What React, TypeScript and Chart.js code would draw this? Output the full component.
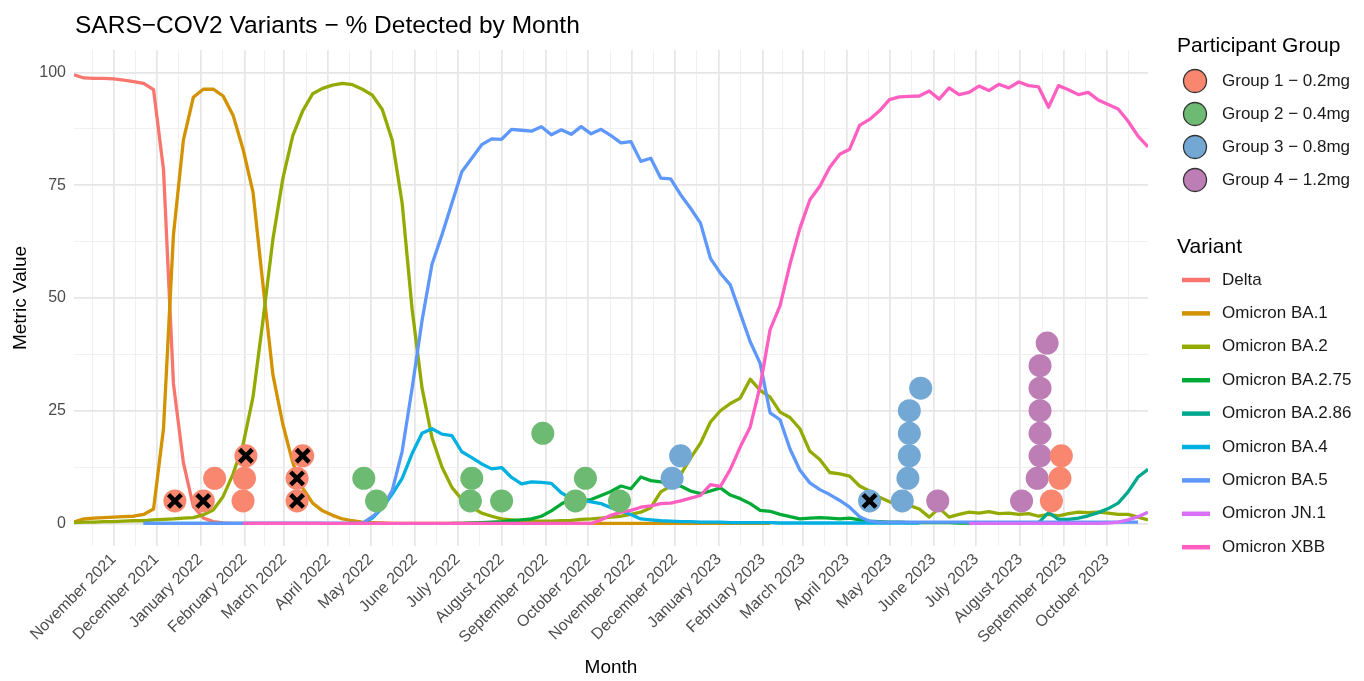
import { useEffect, useRef } from "react";
import { Chart, registerables } from "chart.js";

Chart.register(...registerables);

const FONT = "'Liberation Sans', Arial, Helvetica, sans-serif";

const TITLE = "SARS\u2212COV2 Variants \u2212 % Detected by Month";
const X_TITLE = "Month";
const Y_TITLE = "Metric Value";
const GROUP_LEGEND_TITLE = "Participant Group";
const VARIANT_LEGEND_TITLE = "Variant";

// Weekly surveillance samples: first sampled week and index of the last week
const FIRST_WEEK = "2021-10-04";
const LAST_WEEK_INDEX = 108;

const monthTickDates = [
  "2021-11-01", "2021-12-01", "2022-01-01", "2022-02-01", "2022-03-01", "2022-04-01",
  "2022-05-01", "2022-06-01", "2022-07-01", "2022-08-01", "2022-09-01", "2022-10-01",
  "2022-11-01", "2022-12-01", "2023-01-01", "2023-02-01", "2023-03-01", "2023-04-01",
  "2023-05-01", "2023-06-01", "2023-07-01", "2023-08-01", "2023-09-01", "2023-10-01",
];
const monthTickLabels = [
  "November 2021", "December 2021", "January 2022", "February 2022", "March 2022", "April 2022",
  "May 2022", "June 2022", "July 2022", "August 2022", "September 2022", "October 2022",
  "November 2022", "December 2022", "January 2023", "February 2023", "March 2023", "April 2023",
  "May 2023", "June 2023", "July 2023", "August 2023", "September 2023", "October 2023",
];
const yTickValues = [0, 25, 50, 75, 100];

const variantNames = [
  "Delta", "Omicron BA.1", "Omicron BA.2", "Omicron BA.2.75", "Omicron BA.2.86",
  "Omicron BA.4", "Omicron BA.5", "Omicron JN.1", "Omicron XBB",
];
const variantColors = [
  "#F8766D", "#D39200", "#93AA00", "#00AA35", "#00A88E",
  "#00B0E0", "#5E98FA", "#D96EF7", "#FF5FC0",
];

// Each variant: week index of its first sample, then weekly % detected
const deltaStartWeek = 0;
const deltaPct = [
  99.5, 98.8, 98.7, 98.7, 98.6, 98.3, 98.0, 97.6, 96.2, 78.5,
  31.0, 13.5, 3.8, 1.2, 0.4, 0.1, 0, 0, 0, 0,
  0, 0, 0, 0, 0, 0,
];

const ba1StartWeek = 0;
const ba1Pct = [
  0.3, 1.0, 1.2, 1.3, 1.4, 1.5, 1.6, 2.0, 3.2, 21.0,
  64.0, 85.0, 94.5, 96.3, 96.3, 94.8, 90.5, 83.0, 73.5, 53.0,
  33.0, 22.0, 13.5, 7.8, 4.5, 2.8, 1.8, 1.0, 0.6, 0.3,
  0.2, 0.1, 0, 0, 0, 0, 0, 0, 0, 0,
  0, 0, 0, 0, 0, 0, 0, 0, 0, 0,
  0, 0, 0, 0, 0, 0, 0, 0, 0, 0,
  0, 0, 0, 0, 0, 0, 0, 0, 0, 0,
  0,
];

const ba2StartWeek = 0;
const ba2Pct = [
  0.2, 0.3, 0.3, 0.4, 0.4, 0.5, 0.6, 0.6, 0.8, 0.9,
  1.0, 1.2, 1.3, 1.9, 3.0, 6.0, 11.0, 17.5, 28.0, 45.0,
  63.0, 76.5, 86.0, 91.5, 95.3, 96.5, 97.2, 97.6, 97.3, 96.3,
  95.0, 91.8, 85.0, 71.0, 47.5, 30.0, 19.0, 12.5, 8.0, 5.3,
  3.6, 2.3, 1.6, 1.0, 0.8, 0.6, 0.5, 0.5, 0.5, 0.6,
  0.7, 0.9, 1.0, 1.2, 1.4, 1.6, 2.0, 2.5, 3.5, 7.0,
  8.3, 10.8, 14.5, 17.8, 22.5, 25.0, 26.6, 27.8, 32.0, 29.5,
  28.0, 24.7, 23.5, 21.0, 16.0, 14.2, 11.3, 11.0, 10.5, 8.3,
  7.2, 5.8, 4.8, 4.4, 4.0, 3.2, 1.4, 3.4, 1.4, 2.0,
  2.5, 2.3, 2.6, 2.2, 2.3, 2.0, 2.2, 1.6, 2.0, 1.7,
  2.2, 2.5, 2.4, 2.5, 2.3, 2.0, 2.0, 1.4, 0.8,
];

const ba275StartWeek = 38;
const ba275Pct = [
  0, 0, 0.1, 0.2, 0.3, 0.4, 0.6, 0.8, 1.0, 1.6,
  2.8, 4.3, 5.5, 5.0, 5.3, 6.2, 7.1, 8.3, 7.7, 10.3,
  9.5, 9.2, 8.7, 8.3, 7.2, 6.6, 7.2, 7.9, 6.3, 5.5,
  4.4, 2.9, 2.7, 2.0, 1.5, 1.0, 1.2, 1.3, 1.2, 1.0,
  1.2, 0.8, 0.5, 0.4, 0.3, 0.3, 0.2, 0.2, 0.2, 0.2,
  0.2, 0.1, 0.1, 0.1, 0.1, 0.1, 0.1, 0.1, 0.1, 0.1,
  0.1, 0.1, 0.1,
];

const ba286StartWeek = 96;
const ba286Pct = [0, 0.2, 2.4, 0.9, 0.9, 1.2, 1.7, 2.4, 3.3, 4.5, 7.0, 10.3, 12.0];

const ba4StartWeek = 7;
const ba4Pct = [
  0, 0, 0, 0, 0, 0, 0, 0, 0, 0,
  0, 0, 0, 0, 0, 0, 0, 0, 0, 0,
  0, 0, 0,
  1.2, 3.4, 6.5, 10.0, 15.5, 20.0, 21.0, 19.8, 19.5, 15.9,
  14.6, 13.2, 12.1, 12.4, 10.2, 8.8, 9.2, 9.1, 8.9, 6.8,
  5.5, 5.1, 4.8, 4.4, 3.5, 2.8, 2.0, 1.0, 0.8, 0.6,
  0.5, 0.4, 0.4, 0.3, 0.3, 0.3, 0.2, 0.2, 0.2, 0.2,
  0.2, 0.1, 0.1, 0.1, 0.1, 0.1, 0.1, 0.1, 0.1, 0.1,
  0.1, 0.1, 0.1, 0.1, 0.1, 0.1,
];

const ba5StartWeek = 7;
const ba5Pct = [
  0, 0, 0, 0, 0, 0, 0, 0, 0, 0,
  0, 0, 0, 0, 0, 0, 0, 0, 0, 0,
  0, 0, 0,
  1.5, 3.4, 7.3, 16.0, 30.0, 45.0, 57.5, 64.0, 71.0, 78.0,
  81.0, 84.0, 85.3, 85.2, 87.4, 87.2, 87.0, 88.0, 86.2, 87.3,
  86.3, 88.0, 86.4, 87.4, 86.0, 84.4, 84.7, 80.3, 81.0, 76.6,
  76.4, 72.9, 69.9, 66.6, 58.8, 55.5, 52.9, 46.6, 40.3, 35.5,
  24.5, 23.0, 16.5, 11.8, 9.0, 7.5, 6.4, 5.1, 3.6, 1.5,
  0.5, 0.3, 0.3, 0.3, 0.3, 0.3, 0.3, 0.3, 0.3, 0.3,
  0.3, 0.3, 0.3, 0.3, 0.3, 0.3, 0.3, 0.3, 0.3, 0.3,
  0.3, 0.3, 0.3, 0.3, 0.3, 0.3, 0.3, 0.3,
];

const jn1StartWeek = 90;
const jn1Pct = [
  0, 0, 0, 0, 0, 0, 0, 0, 0, 0,
  0, 0, 0, 0, 0.1, 0.3, 0.8, 1.5, 2.5,
];

const xbbStartWeek = 17;
const xbbPct = [
  0, 0, 0, 0, 0, 0, 0, 0, 0, 0,
  0, 0, 0, 0, 0, 0, 0, 0, 0, 0,
  0, 0, 0, 0, 0, 0, 0, 0, 0, 0,
  0, 0, 0, 0, 0, 0,
  0.8, 1.8, 2.5, 2.9, 3.6, 3.9, 4.4, 4.5, 5.0, 5.6,
  6.2, 8.6, 8.2, 12.0, 17.0, 21.4, 30.5, 43.0, 48.3, 57.5,
  65.5, 71.8, 74.8, 79.0, 81.9, 83.0, 88.3, 89.6, 91.5, 94.0,
  94.6, 94.7, 94.8, 95.9, 94.1, 96.6, 95.1, 95.6, 97.0, 96.0,
  97.4, 96.6, 97.9, 97.1, 96.8, 92.3, 97.1, 96.2, 95.1, 95.6,
  93.9, 92.9, 91.9, 89.2, 85.9, 83.5,
];

const variantStartWeeks = [
  deltaStartWeek, ba1StartWeek, ba2StartWeek, ba275StartWeek, ba286StartWeek,
  ba4StartWeek, ba5StartWeek, jn1StartWeek, xbbStartWeek,
];
const variantSeries = [deltaPct, ba1Pct, ba2Pct, ba275Pct, ba286Pct, ba4Pct, ba5Pct, jn1Pct, xbbPct];

// Participant detections (flag 1 = marked with a cross)
const groupNames = [
  "Group 1 \u2212 0.2mg", "Group 2 \u2212 0.4mg", "Group 3 \u2212 0.8mg", "Group 4 \u2212 1.2mg",
];
const groupColors = ["#F9876F", "#6DBA72", "#73A8D4", "#BD7DB5"];

const group1Dates = [
  "2021-12-14", "2022-01-03", "2022-01-11", "2022-01-31", "2022-02-01", "2022-02-02",
  "2022-03-10", "2022-03-10", "2022-03-14", "2023-08-23", "2023-08-29", "2023-08-30",
];
const group1Values = [5, 5, 10, 5, 10, 15, 5, 10, 15, 5, 10, 15];
const group1Flags = [1, 1, 0, 0, 0, 1, 1, 1, 1, 0, 0, 0];

const group2Dates = [
  "2022-04-26", "2022-05-05", "2022-07-10", "2022-07-11", "2022-08-01", "2022-08-30",
  "2022-09-22", "2022-09-29", "2022-10-23",
];
const group2Values = [10, 5, 5, 10, 5, 20, 5, 10, 5];
const group2Flags = [0, 0, 0, 0, 0, 0, 0, 0, 0];

const group3Dates = [
  "2022-11-29", "2022-12-05", "2023-04-17", "2023-05-10", "2023-05-14", "2023-05-15",
  "2023-05-15", "2023-05-15", "2023-05-23",
];
const group3Values = [10, 15, 5, 5, 10, 15, 20, 25, 30];
const group3Flags = [0, 0, 1, 0, 0, 0, 0, 0, 0];

const group4Dates = [
  "2023-06-04", "2023-08-02", "2023-08-13", "2023-08-15", "2023-08-15", "2023-08-15",
  "2023-08-15", "2023-08-15", "2023-08-20",
];
const group4Values = [5, 5, 10, 15, 20, 25, 30, 35, 40];
const group4Flags = [0, 0, 0, 0, 0, 0, 0, 0, 0];

const groupDates = [group1Dates, group2Dates, group3Dates, group4Dates];
const groupValues = [group1Values, group2Values, group3Values, group4Values];
const groupFlags = [group1Flags, group2Flags, group3Flags, group4Flags];

const DAY_MS = 86400000;
const dayOf = (iso: string) =>
  (new Date(iso + "T00:00:00Z").getTime() - new Date(FIRST_WEEK + "T00:00:00Z").getTime()) / DAY_MS;

type AxisTick = { value: number; name?: string };

function monthTicks(): AxisTick[] {
  const majors = monthTickDates.map(dayOf);
  const out: AxisTick[] = [];
  out.push({ value: majors[0] - (majors[1] - majors[0]) / 2 });
  majors.forEach((d, i) => {
    out.push({ value: d, name: monthTickLabels[i] });
    const next = i < majors.length - 1 ? majors[i + 1] : d + (d - majors[i - 1]);
    out.push({ value: (d + next) / 2 });
  });
  return out;
}

function percentTicks(): AxisTick[] {
  const out: AxisTick[] = [];
  yTickValues.forEach((v, i) => {
    out.push({ value: v, name: String(v) });
    if (i < yTickValues.length - 1) out.push({ value: (v + yTickValues[i + 1]) / 2 });
  });
  return out;
}

const MAJOR_GRID = "#E6E6E6";
const MINOR_GRID = "#EEEEEE";

const legendPlugin = {
  id: "titleAndLegends",
  afterDraw(chart: any) {
    const ctx: CanvasRenderingContext2D = chart.ctx;
    ctx.save();
    ctx.textAlign = "left";
    ctx.textBaseline = "middle";

    ctx.fillStyle = "#000000";
    ctx.font = `24.5px ${FONT}`;
    ctx.fillText(TITLE, 75, 26);

    ctx.font = `21px ${FONT}`;
    ctx.fillText(GROUP_LEGEND_TITLE, 1177, 46);
    groupNames.forEach((name, i) => {
      const y = 81 + i * 33;
      ctx.beginPath();
      ctx.arc(1195, y, 11.5, 0, Math.PI * 2);
      ctx.fillStyle = groupColors[i];
      ctx.fill();
      ctx.lineWidth = 1.3;
      ctx.strokeStyle = "#333333";
      ctx.stroke();
      ctx.fillStyle = "#1A1A1A";
      ctx.font = `17px ${FONT}`;
      ctx.fillText(name, 1222, y);
    });

    ctx.fillStyle = "#000000";
    ctx.font = `21px ${FONT}`;
    ctx.fillText(VARIANT_LEGEND_TITLE, 1177, 247);
    variantNames.forEach((name, i) => {
      const y = 280 + i * 33.4;
      ctx.beginPath();
      ctx.moveTo(1182, y);
      ctx.lineTo(1210, y);
      ctx.strokeStyle = variantColors[i];
      ctx.lineWidth = 4.5;
      ctx.stroke();
      ctx.fillStyle = "#1A1A1A";
      ctx.font = `17px ${FONT}`;
      ctx.fillText(name, 1222, y);
    });
    ctx.restore();
  },
};

export default function App() {
  const canvasRef = useRef<HTMLCanvasElement | null>(null);

  useEffect(() => {
    const canvas = canvasRef.current;
    if (!canvas) return;

    const lineSets = variantNames.map((name, v) => ({
      type: "line" as const,
      label: name,
      data: variantSeries[v].map((pct, k) => ({ x: (variantStartWeeks[v] + k) * 7, y: pct })),
      borderColor: variantColors[v],
      backgroundColor: variantColors[v],
      borderWidth: 3.3,
      pointRadius: 0,
      tension: 0,
      borderJoinStyle: "round" as const,
      order: 20 - v,
    }));

    const pointSets = groupNames.map((name, g) => ({
      type: "scatter" as const,
      label: name,
      data: groupDates[g].map((d, k) => ({ x: dayOf(d), y: groupValues[g][k] })),
      pointRadius: 11.5,
      pointBackgroundColor: groupColors[g],
      pointBorderWidth: 0,
      pointBorderColor: groupColors[g],
      order: 3,
    }));

    const flagged: { x: number; y: number }[] = [];
    groupDates.forEach((dates, g) =>
      dates.forEach((d, k) => {
        if (groupFlags[g][k]) flagged.push({ x: dayOf(d), y: groupValues[g][k] });
      })
    );
    const flagSet = {
      type: "scatter" as const,
      label: "flagged",
      data: flagged,
      pointStyle: "crossRot" as const,
      pointRadius: 9,
      pointBorderColor: "#000000",
      pointBackgroundColor: "#000000",
      pointBorderWidth: 4.5,
      order: 1,
    };

    const chart = new Chart(canvas, {
      type: "line",
      data: { datasets: [...lineSets, ...pointSets, flagSet] as any },
      options: {
        responsive: false,
        animation: false,
        devicePixelRatio: 1,
        events: [],
        layout: { padding: { left: 0, right: 216, top: 50, bottom: 0 } },
        plugins: {
          legend: { display: false },
          tooltip: { enabled: false },
          title: { display: false },
        },
        scales: {
          x: {
            type: "linear",
            min: 0,
            max: LAST_WEEK_INDEX * 7,
            border: { display: false },
            grid: {
              drawTicks: false,
              color: (c: any) => (c.tick && c.tick.name ? MAJOR_GRID : MINOR_GRID),
              lineWidth: (c: any) => (c.tick && c.tick.name ? 1.7 : 0.9),
            },
            ticks: {
              autoSkip: false,
              minRotation: 45,
              maxRotation: 45,
              padding: 4,
              color: "#4D4D4D",
              font: { size: 16, family: FONT },
              callback: (_v: any, i: number, ticks: any[]) => ticks[i].name ?? "",
            },
            afterBuildTicks: (axis: any) => {
              axis.ticks = monthTicks();
            },
            afterFit: (axis: any) => {
              axis.height = 135;
            },
            title: {
              display: true,
              text: X_TITLE,
              color: "#000000",
              font: { size: 19, family: FONT },
              padding: { top: 0, bottom: 2 },
            },
          },
          y: {
            type: "linear",
            min: -5,
            max: 105,
            border: { display: false },
            grid: {
              drawTicks: false,
              color: (c: any) => (c.tick && c.tick.name ? MAJOR_GRID : MINOR_GRID),
              lineWidth: (c: any) => (c.tick && c.tick.name ? 1.7 : 0.9),
            },
            ticks: {
              padding: 8,
              color: "#4D4D4D",
              font: { size: 16, family: FONT },
              callback: (_v: any, i: number, ticks: any[]) => ticks[i].name ?? "",
            },
            afterBuildTicks: (axis: any) => {
              axis.ticks = percentTicks();
            },
            afterFit: (axis: any) => {
              axis.width = 74;
            },
            title: {
              display: true,
              text: Y_TITLE,
              color: "#000000",
              font: { size: 19, family: FONT },
              padding: { top: 9, bottom: 0 },
            },
          },
        },
      } as any,
      plugins: [legendPlugin],
    });

    return () => chart.destroy();
  }, []);

  return (
    <div style={{ position: "absolute", left: 0, top: 0, width: 1364, height: 681, background: "#FFFFFF" }}>
      <canvas ref={canvasRef} width={1364} height={681} style={{ display: "block", width: 1364, height: 681 }} />
    </div>
  );
}
